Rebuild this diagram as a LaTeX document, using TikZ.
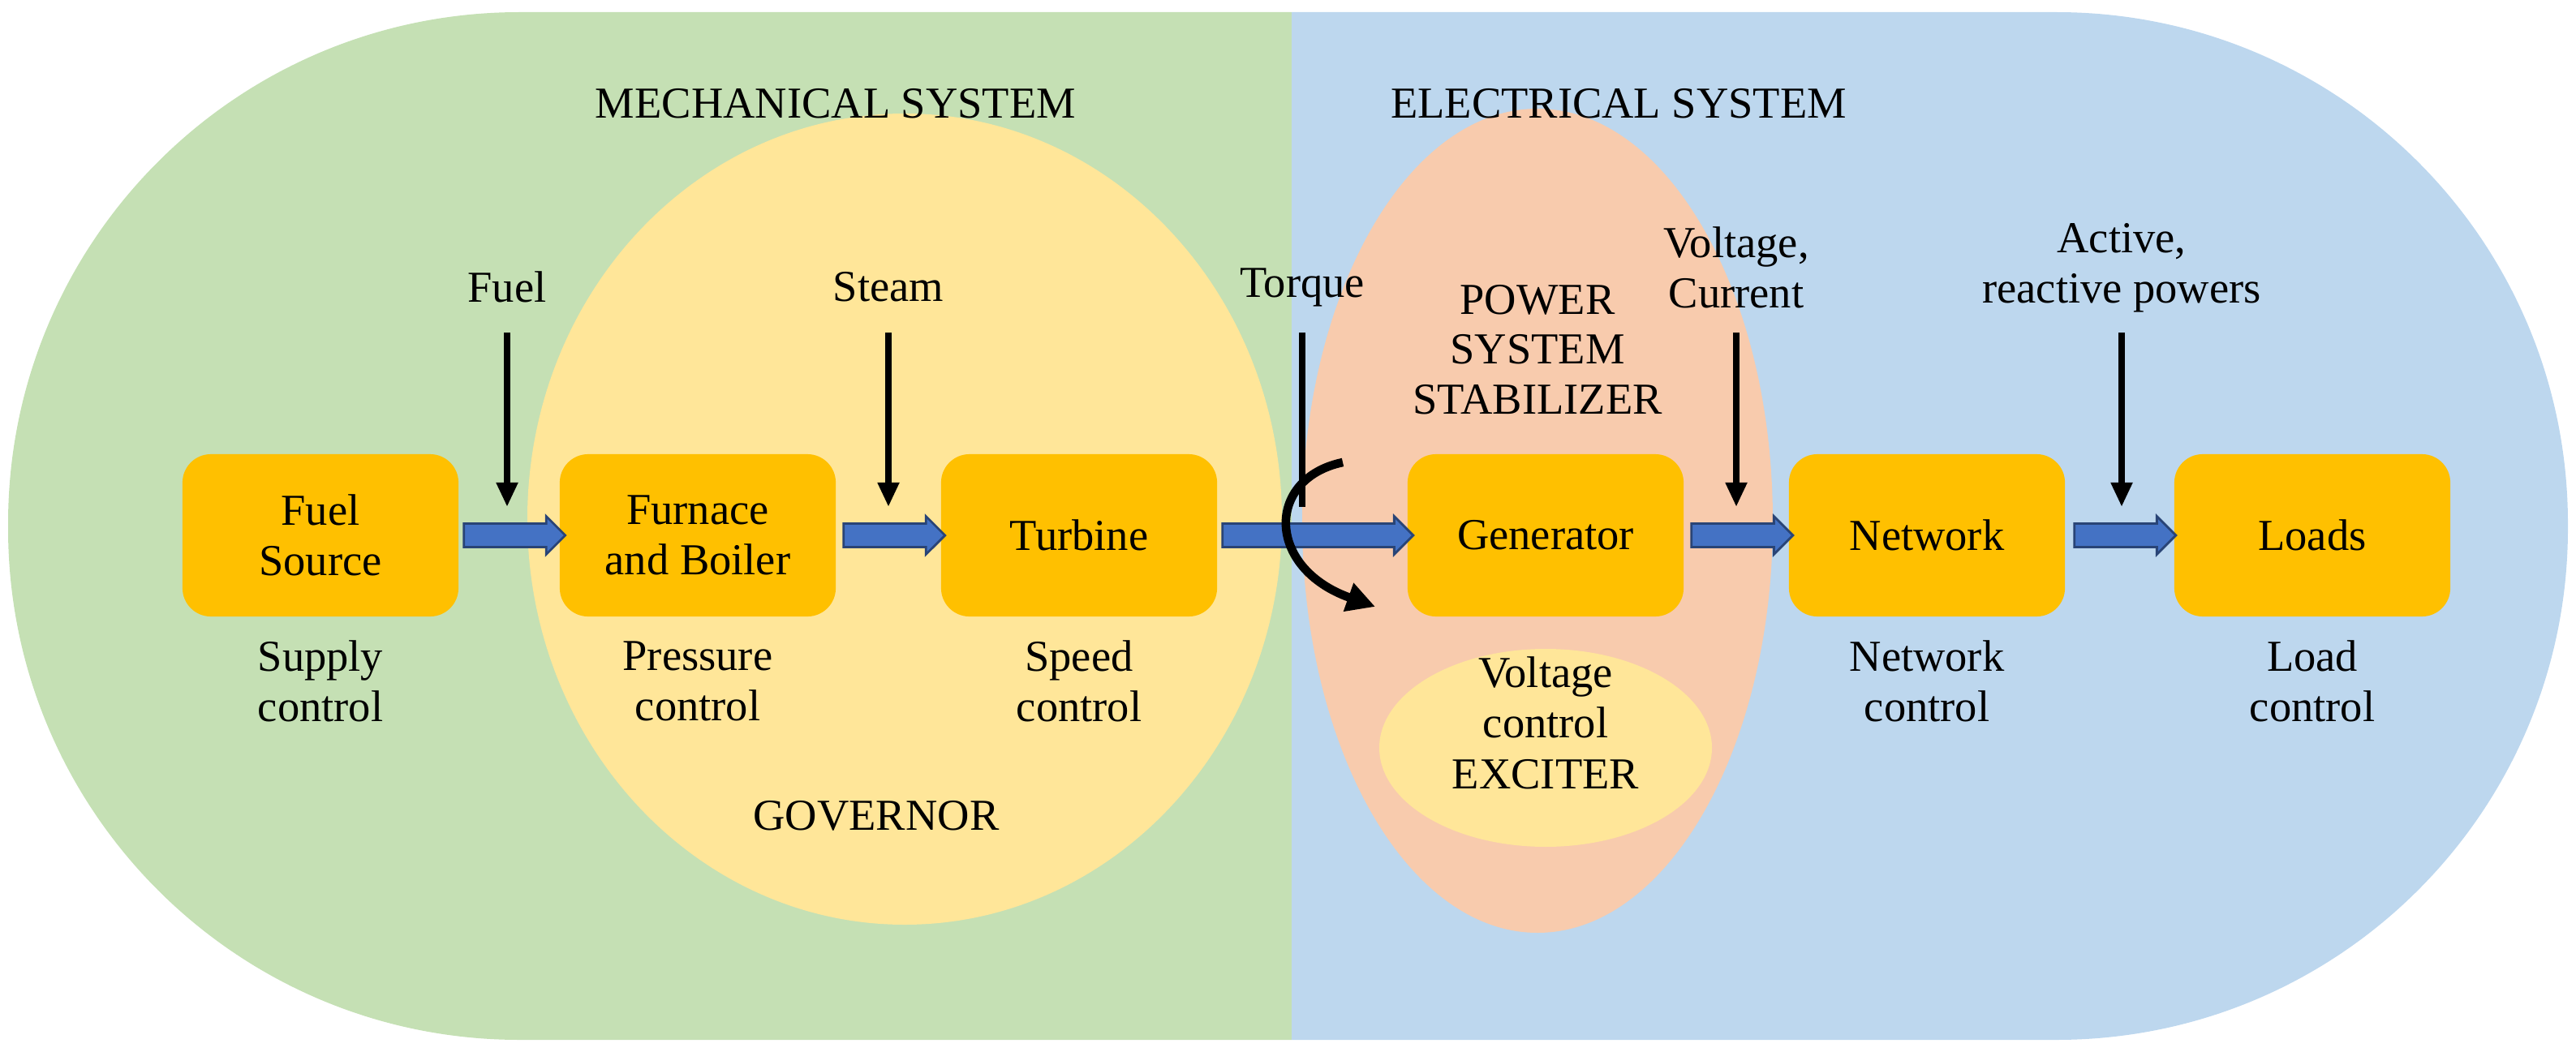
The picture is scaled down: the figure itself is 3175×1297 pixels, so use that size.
\documentclass[tikz,border=0pt]{standalone}
\usepackage{fontspec}
\setmainfont{Liberation Serif}
\usetikzlibrary{shapes.arrows,arrows.meta}
\definecolor{mgreen}{HTML}{C5E0B4}
\definecolor{eblue}{HTML}{BDD7EE}
\definecolor{gyell}{HTML}{FFE699}
\definecolor{psorange}{HTML}{F8CBAD}
\definecolor{boxor}{HTML}{FFC000}
\definecolor{flow}{HTML}{4472C4}
\begin{document}
\begin{tikzpicture}[x=0.01cm,y=-0.01cm,
  blk/.style={fill=boxor,rounded corners=0.35cm,minimum width=3.4cm,minimum height=2cm,align=center,font=\fontsize{15.5}{17.5}\selectfont},
  lbl/.style={align=center,font=\fontsize{15.5}{17.5}\selectfont},
  flw/.style={single arrow,fill=flow,draw=flow!60!black,thick,minimum height=1.25cm,inner sep=0.13cm,single arrow head extend=0.09cm},
  inp/.style={-{Triangle[length=0.3cm,width=0.25cm]},line width=2.2pt}]
\useasboundingbox (0,0) rectangle (3175,1297);
\begin{scope}
  \clip (10,15) [rounded corners=6.3cm] rectangle (3165,1282);
  \fill[mgreen] (0,0) rectangle (1592,1297);
  \fill[eblue] (1592,0) rectangle (3175,1297);
\end{scope}
\fill[gyell] (1115,640) ellipse [x radius=465, y radius=500];
\fill[psorange] (1895,642) ellipse [x radius=290, y radius=508];
\fill[gyell] (1905,922) ellipse [x radius=205, y radius=122];

\node[lbl] (mech) at (1030,128) {MECHANICAL SYSTEM};
\node[lbl] (elec) at (1995,128) {ELECTRICAL SYSTEM};
\node[lbl] (gov) at (1080,1006) {GOVERNOR};
\node[lbl] (pss) at (1895,431) {POWER\\SYSTEM\\STABILIZER};

\node[blk] (fs) at (395,660) {Fuel\\Source};
\node[blk] (fb) at (860,660) {Furnace\\and Boiler};
\node[blk] (tu) at (1330,660) {Turbine};
\node[blk] (ge) at (1905,660) {Generator};
\node[blk] (nw) at (2375,660) {Network};
\node[blk] (ld) at (2850,660) {Loads};

\node[lbl] at (395,840) {Supply\\control};
\node[lbl] at (860,840) {Pressure\\control};
\node[lbl] at (1330,840) {Speed\\control};
\node[lbl] at (1905,860) {Voltage\\control};
\node[lbl] at (1905,955) {EXCITER};
\node[lbl] at (2375,840) {Network\\control};
\node[lbl] at (2850,840) {Load\\control};

\node[flw] (a1) at (627,660) {};
\node[flw] (a2) at (1095,660) {};
\node[flw,minimum height=2.35cm] (a3) at (1617,660) {};
\node[flw] (a4) at (2140,660) {};
\node[flw] (a5) at (2612,660) {};

\node[lbl] (tf) at (625,354) {Fuel};
\node[lbl] (ts) at (1095,354) {Steam};
\node[lbl] (tt) at (1605,354) {Torque};
\node[lbl] (tv) at (2140,330) {Voltage,\\Current};
\node[lbl] (tp) at (2615,330) {Active,\\reactive powers};
\coordinate (ef) at (625,625);
\coordinate (es) at (1095,625);
\coordinate (et) at (1605,625);
\coordinate (ev) at (2140,625);
\coordinate (ep) at (2615,625);
\draw[inp] (625,410) -- (ef);
\draw[inp] (1095,410) -- (es);
\draw[line width=2.2pt] (1605,410) -- (et);
\draw[inp] (2140,410) -- (ev);
\draw[inp] (2615,410) -- (ep);
\draw[-{Triangle[length=0.35cm,width=0.35cm]},line width=3pt] (1655,570) .. controls (1560,590) and (1560,700) .. (1695,748);
\end{tikzpicture}
\end{document}
